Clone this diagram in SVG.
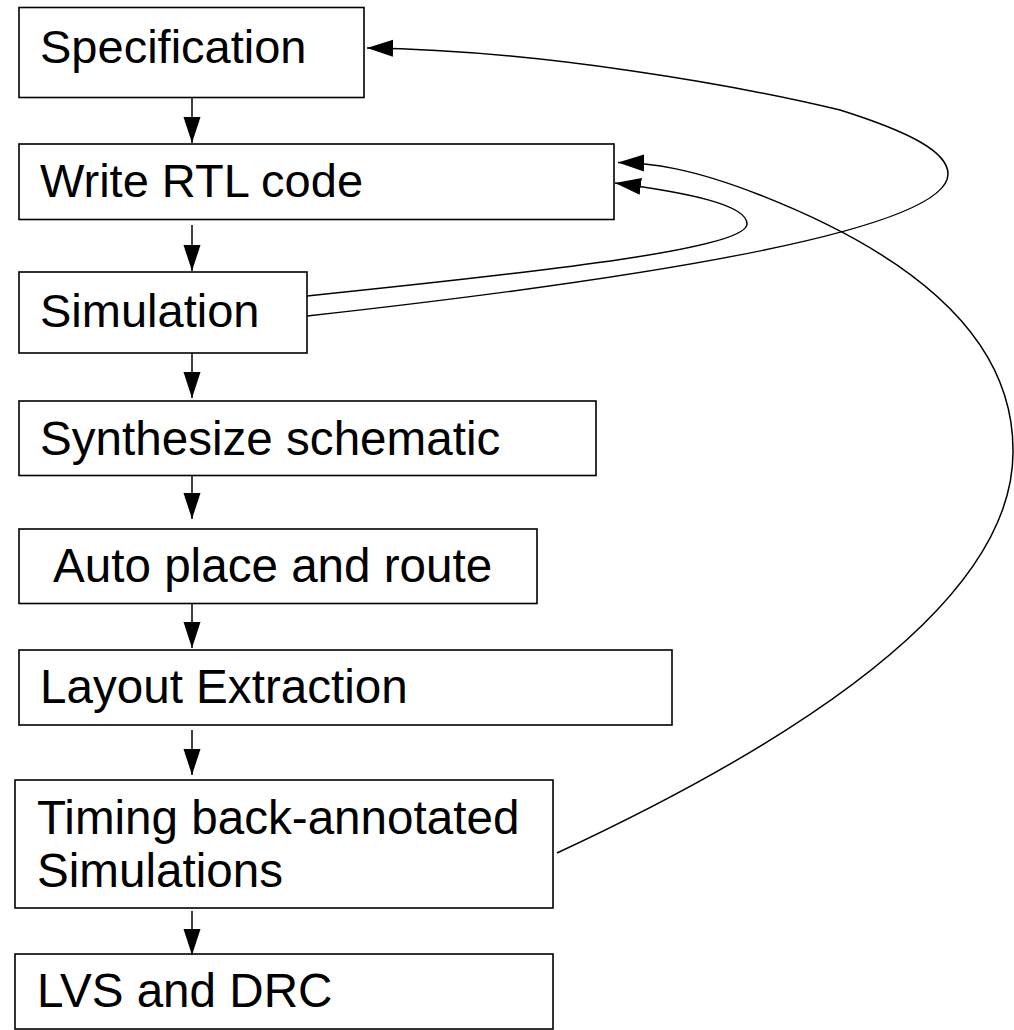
<svg xmlns="http://www.w3.org/2000/svg" width="1014" height="1030" viewBox="0 0 1014 1030">
  <style>
    .box { fill: #ffffff; stroke: #000000; stroke-width: 1.6; }
    .label { font-family: "Liberation Sans", Arial, sans-serif; font-size: 47px; fill: #000000; }
    .wide { font-size: 47.6px; }
    .flow { fill: none; stroke: #000000; stroke-width: 1.5; }
  </style>
  <defs>
    <marker id="head" markerUnits="userSpaceOnUse" markerWidth="27" markerHeight="19" refX="26" refY="9" orient="auto">
      <path d="M0,0.5 L26,9 L0,17.5 z" fill="#000000"/>
    </marker>
  </defs>
  <rect width="1014" height="1030" fill="#ffffff"/>

  <!-- design flow steps -->
  <g id="spec">
    <rect class="box" x="19" y="7.5" width="345" height="90"/>
    <text class="label" x="40" y="63">Specification</text>
  </g>
  <g id="rtl">
    <rect class="box" x="19" y="144" width="595" height="75.5"/>
    <text class="label" x="40" y="197">Write RTL code</text>
  </g>
  <g id="sim">
    <rect class="box" x="19" y="272" width="288" height="81"/>
    <text class="label" x="40" y="327">Simulation</text>
  </g>
  <g id="synth">
    <rect class="box" x="19" y="401" width="577" height="74.5"/>
    <text class="label wide" x="40" y="455">Synthesize schematic</text>
  </g>
  <g id="pnr">
    <rect class="box" x="19" y="529" width="518" height="74.5"/>
    <text class="label wide" x="53" y="582">Auto place and route</text>
  </g>
  <g id="extract">
    <rect class="box" x="19" y="650" width="653" height="75"/>
    <text class="label wide" x="40" y="703">Layout Extraction</text>
  </g>
  <g id="timing">
    <rect class="box" x="15" y="780" width="538" height="128"/>
    <text class="label wide" x="37" y="834">Timing back-annotated</text>
    <text class="label wide" x="37" y="887">Simulations</text>
  </g>
  <g id="lvs">
    <rect class="box" x="15" y="954" width="538" height="75"/>
    <text class="label wide" x="37" y="1007">LVS and DRC</text>
  </g>

  <!-- connectors -->
  <g id="connectors">
    <path class="flow" marker-end="url(#head)" d="M192,97.5 V143"/>
    <path class="flow" marker-end="url(#head)" d="M192,225 V271"/>
    <path class="flow" marker-end="url(#head)" d="M192,353 V398"/>
    <path class="flow" marker-end="url(#head)" d="M192,475.5 V519"/>
    <path class="flow" marker-end="url(#head)" d="M192,603.5 V648"/>
    <path class="flow" marker-end="url(#head)" d="M192,730 V775"/>
    <path class="flow" marker-end="url(#head)" d="M192,911 V955"/>

    <!-- Simulation back to Write RTL code -->
    <path class="flow" marker-end="url(#head)" d="M307,296 C560,270 747,248 747,224 C747,205 690,193 615,183"/>
    <!-- Simulation back to Specification -->
    <path class="flow" marker-end="url(#head)" d="M307,316 C650,278 948,230 948,174 C948,152 910,132 840,110 C740,86 540,50 367,48"/>
    <!-- Timing simulations back to Write RTL code -->
    <path class="flow" marker-end="url(#head)" d="M557,853 C800,740 1015,600 1013,450 C1013,330 900,250 760,195 C690,167.5 650,163 618,162.5"/>
  </g>
</svg>
